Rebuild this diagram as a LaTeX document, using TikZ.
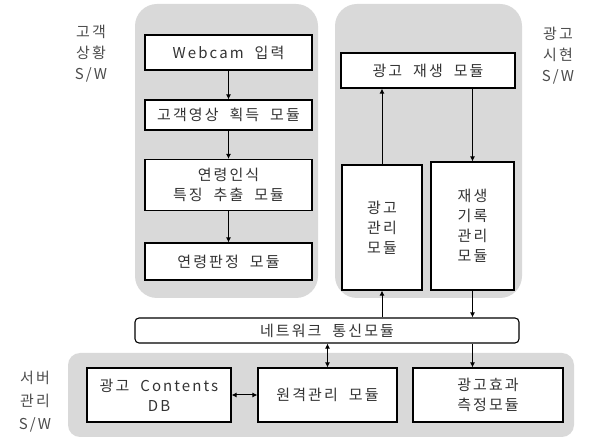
\documentclass[tikz,border=0pt]{standalone}
\usepackage{fontspec}
\setmainfont{Noto Sans CJK KR}[LetterSpace=14, WordSpace=2]
\usetikzlibrary{arrows.meta}
\definecolor{panelgray}{RGB}{217,217,217}
\tikzset{
    panel/.style={fill=panelgray, draw=none, rounded corners=22pt},
    modbox/.style={draw, line width=1.1pt, fill=white, inner sep=0pt, align=center,
        text=black!80, font=\fontsize{15}{20}\selectfont},
    swlabel/.style={align=center, text=black!70, font=\fontsize{15}{21}\selectfont},
    flow/.style={line width=1pt, -{Latex[length=5pt,width=5pt]}},
    biflow/.style={line width=1pt, {Latex[length=5pt,width=5pt]}-{Latex[length=5pt,width=5pt]}}
}
\begin{document}
\begin{tikzpicture}[x=1pt, y=-1pt]
    \useasboundingbox (0,0) rectangle (590,438);

    % Background panels
    \fill[panel] (135,4) rectangle (318,298);
    \fill[panel] (335,4) rectangle (522,298);
    \fill[panel, rounded corners=12pt] (68,353) rectangle (574,437);

    % Customer situation S/W
    \node[swlabel] (custlabel) at (91,54) {고객\\상황\\S/W};
    \node[modbox, minimum width=167pt, minimum height=35pt] (webcam) at (228.5,52.5) {Webcam 입력};
    \node[modbox, minimum width=167pt, minimum height=30pt] (acquire) at (228.5,115) {고객영상 획득 모듈};
    \node[modbox, minimum width=167pt, minimum height=51pt] (feature) at (228.5,185) {연령인식\\특징 추출 모듈};
    \node[modbox, minimum width=167pt, minimum height=37pt] (agejudge) at (228.5,261.5) {연령판정 모듈};

    \draw[flow] (webcam) -- (acquire);
    \draw[flow] (acquire) -- (feature);
    \draw[flow] (feature) -- (agejudge);

    % Ad display S/W
    \node[swlabel] (showlabel) at (558,56) {광고\\시현\\S/W};
    \node[modbox, minimum width=174pt, minimum height=35pt] (play) at (428,70.5) {광고 재생 모듈};
    \node[modbox, minimum width=80pt, minimum height=125pt] (admgmt) at (382,227.5) {광고\\관리\\모듈};
    \node[modbox, minimum width=83pt, minimum height=128pt] (record) at (472.5,226) {재생\\기록\\관리\\모듈};

    \draw[flow] (admgmt.north) -- (admgmt.north |- play.south);
    \draw[flow] (record.north |- play.south) -- (record.north);

    % Network module
    \node[modbox, rounded corners=4pt, minimum width=384pt, minimum height=25pt] (network) at (327,330.5) {네트워크 통신모듈};

    \draw[flow] (admgmt.south |- network.north) -- (admgmt.south);
    \draw[flow] (record.south) -- (record.south |- network.north);

    % Server management S/W
    \node[swlabel, font=\fontsize{15}{23}\selectfont] (srvlabel) at (35,402) {서버\\관리\\S/W};
    \node[modbox, minimum width=144pt, minimum height=54pt] (db) at (159,395) {광고 Contents\\DB};
    \node[modbox, minimum width=139pt, minimum height=54pt] (remote) at (327.5,395) {원격관리 모듈};
    \node[modbox, minimum width=150pt, minimum height=54pt] (effect) at (488,395) {광고효과\\측정모듈};

    \draw[biflow] (network.south -| remote.north) -- (remote.north);
    \draw[flow] (record.south |- network.south) -- (record.south |- effect.north);
    \draw[biflow] (db) -- (remote);
\end{tikzpicture}
\end{document}
